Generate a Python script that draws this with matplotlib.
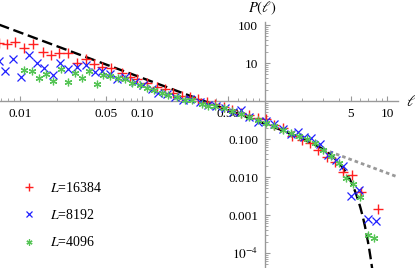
import numpy as np
import matplotlib
matplotlib.use('Agg')
import matplotlib.pyplot as plt
from matplotlib.ticker import FixedLocator, FixedFormatter, LogLocator, NullFormatter

plt.rcParams['font.family'] = ['Liberation Serif', 'DejaVu Serif']
plt.rcParams['mathtext.fontset'] = 'stix'

# data: cluster size l and P(l)
l_16384 = [0.00674, 0.00783, 0.0091, 0.0108, 0.0128, 0.0154, 0.0179, 0.0208, 0.0247, 0.0292,
           0.0346, 0.0402, 0.0467, 0.0553, 0.0681, 0.0791, 0.0902, 0.109, 0.131, 0.153,
           0.177, 0.210, 0.244, 0.284, 0.336, 0.391, 0.463, 0.538, 0.637, 0.740,
           0.877, 1.02, 1.18, 1.40, 1.66, 2.00, 2.33, 2.71, 3.21, 3.73,
           4.33, 5.13, 6.08, 8.37]
p_16384 = [33.6, 30.7, 35.7, 25.5, 31.6, 19.5, 16.7, 17.8, 17.8, 10.0,
           12.7, 9.42, 7.85, 7.39, 5.46, 4.28, 3.79, 2.98, 2.34, 2.07,
           1.62, 1.35, 1.27, 1.13, 0.94, 0.834, 0.695, 0.580, 0.483, 0.428,
           0.357, 0.336, 0.233, 0.195, 0.120, 0.094, 0.0785, 0.0514, 0.0336, 0.0248,
           0.0135, 0.0113, 0.00403, 0.00144]

l_8192 = [0.0068, 0.00755, 0.00877, 0.0102, 0.0118, 0.0137, 0.0158, 0.0186, 0.0214, 0.0247,
          0.0292, 0.0346, 0.0409, 0.0467, 0.0543, 0.0619, 0.0720, 0.0869, 0.101, 0.120,
          0.134, 0.158, 0.184, 0.214, 0.244, 0.295, 0.343, 0.398, 0.471, 0.548,
          0.637, 0.740, 0.877, 1.02, 1.18, 1.40, 1.63, 1.86, 2.08, 2.37,
          2.81, 3.27, 3.80, 4.33, 5.04, 5.85, 6.93, 8.05]
p_8192 = [11.5, 6.35, 12.7, 4.28, 16.2, 10.0, 7.6, 4.83, 10.0, 6.95,
          7.85, 8.86, 5.80, 6.16, 5.14, 3.79, 4.28, 3.16, 2.64, 2.07,
          1.62, 1.53, 1.27, 1.06, 1.13, 0.94, 0.785, 0.738, 0.655, 0.514,
          0.580, 0.379, 0.280, 0.298, 0.248, 0.183, 0.135, 0.153, 0.113, 0.106,
          0.0738, 0.0379, 0.0280, 0.0195, 0.00316, 0.00455, 0.000785, 0.000695]

l_4096 = [0.0108, 0.0125, 0.0143, 0.0164, 0.0186, 0.0216, 0.0247, 0.0281, 0.0321, 0.0366,
          0.0425, 0.0476, 0.0543, 0.0631, 0.0720, 0.0821, 0.0955, 0.109, 0.124, 0.144,
          0.162, 0.191, 0.222, 0.254, 0.306, 0.343, 0.391, 0.463, 0.538, 0.637,
          0.740, 0.877, 1.02, 1.18, 1.40, 1.63, 1.89, 2.20, 2.56, 2.97,
          3.46, 4.02, 4.58, 5.23, 5.96, 6.93, 7.76]
p_4096 = [6.54, 6.16, 4.15, 5.14, 3.46, 6.95, 3.16, 5.46, 4.15, 5.98,
          2.72, 4.98, 4.55, 4.03, 3.79, 2.98, 2.64, 2.20, 1.95, 1.62,
          1.44, 1.27, 1.06, 1.06, 0.834, 0.738, 0.738, 0.655, 0.546, 0.455,
          0.379, 0.316, 0.264, 0.220, 0.173, 0.144, 0.120, 0.100, 0.0785, 0.0514,
          0.0357, 0.0233, 0.00941, 0.00654, 0.00298, 0.000298, 0.000248]

# fit: P = A l^-tau exp(-(l/l0)^beta), plus pure power law (gray)
A = 0.254
tau = 1.2
l0 = 4.42
beta = 3.5
A_gray = 0.2

x_ticks = [0.01, 0.05, 0.1, 0.5, 5, 10]
x_labels = ['0.01', '0.05', '0.10', '0.50', '5', '10']
y_ticks = [100, 10, 0.1, 0.01, 0.001, 1e-4]
y_labels = ['100', '10', '0.100', '0.010', '0.001', '$10^{-4}$']

fig = plt.figure(figsize=(4.15, 2.68), dpi=100)
ax = fig.add_axes([0, 0, 398 / 415, 246 / 268])
ax.set_xscale('log')
ax.set_yscale('log')
ax.set_xlim(0.00687, 12.19)
ax.set_ylim(4.03e-5, 120)

lf = np.logspace(np.log10(0.005), np.log10(12.2), 400)
ax.plot(lf, A * lf ** -tau * np.exp(-(lf / l0) ** beta), color='black', lw=1.7,
        dashes=(4.5, 2), zorder=4)
lg = np.logspace(np.log10(3.0), np.log10(12.2), 50)
ax.plot(lg, A_gray * lg ** -tau, color='#999999', lw=2.0, dashes=(1.3, 1.1), zorder=3)

ax.plot(l_16384, p_16384, ls='none', marker='+', ms=7, mew=1.0, color='#ff2020',
        label='$L$=16384', zorder=5)
ax.plot(l_8192, p_8192, ls='none', marker='x', ms=6, mew=0.9, color='#2020ff',
        label='$L$=8192', zorder=5)
ax.plot(l_4096, p_4096, ls='none', marker=(6, 2, 0), ms=5.5, mew=0.9, color='#55c455',
        label='$L$=4096', zorder=5)

# axes crossing at (1, 1)
for s in ['top', 'right']:
    ax.spines[s].set_visible(False)
ax.spines['left'].set_position(('data', 1.0))
ax.spines['bottom'].set_position(('data', 1.0))
for s in ['left', 'bottom']:
    ax.spines[s].set_color('#999999')
    ax.spines[s].set_linewidth(1.0)

ax.xaxis.set_major_locator(FixedLocator(x_ticks))
ax.xaxis.set_major_formatter(FixedFormatter(x_labels))
ax.yaxis.set_major_locator(FixedLocator(y_ticks))
ax.yaxis.set_major_formatter(FixedFormatter(y_labels))
ax.xaxis.set_minor_locator(LogLocator(base=10, subs=np.arange(2, 10)))
ax.yaxis.set_minor_locator(LogLocator(base=10, subs=np.arange(2, 10)))
ax.xaxis.set_minor_formatter(NullFormatter())
ax.yaxis.set_minor_formatter(NullFormatter())
ax.tick_params(which='both', direction='in', color='#999999', labelsize=9.5)
ax.tick_params(which='major', length=3.5, width=0.8)
ax.tick_params(which='minor', length=2, width=0.6)
ax.tick_params(axis='x', pad=5)
ax.tick_params(axis='y', pad=5)

fig.text(262 / 415, 1 - 8 / 268, r'$P(\ell)$', ha='center', va='center', fontsize=10.5)
fig.text(411 / 415, 1 - 101 / 268, r'$\ell$', ha='center', va='center', fontsize=11)

ax.legend(loc='upper left', bbox_to_anchor=(22 / 415, 1 - 181 / 268),
          bbox_transform=fig.transFigure, frameon=False, fontsize=10,
          handlelength=1.0, handletextpad=1.0, labelspacing=0.95, borderpad=0,
          borderaxespad=0, markerscale=0.8)

fig.savefig('out.png', dpi=100)
